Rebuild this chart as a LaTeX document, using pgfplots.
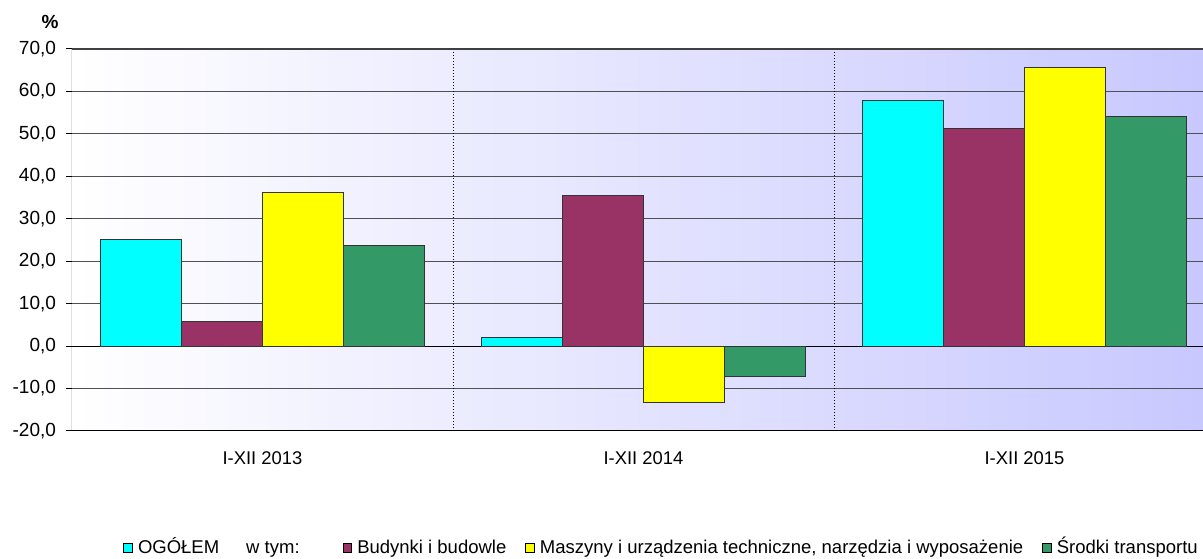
\documentclass[border=0pt]{standalone}
\usepackage{fontspec}
\setmainfont{Liberation Sans}
\usepackage{pgfplots}
\pgfplotsset{compat=1.18}
\usetikzlibrary{calc}
\definecolor{cogol}{RGB}{0,255,255}
\definecolor{cbud}{RGB}{153,51,102}
\definecolor{cmasz}{RGB}{255,255,0}
\definecolor{ctrans}{RGB}{51,153,102}
\definecolor{cbgright}{RGB}{200,200,255}
\definecolor{cgrid}{RGB}{80,80,80}
\pgfplotsset{
  sq bar/.style={fill=#1, draw=black!80, line width=0.5pt,
    legend image code/.code={\draw[fill=#1, draw=black, line width=0.4pt] (0pt,-2.2pt) rectangle (4.4pt,2.2pt);}},
}

\begin{document}
\begin{tikzpicture}
  \begin{axis}[
    width=565.5pt,
    height=191pt,
    scale only axis,
    xmin=-0.5, xmax=2.4685,
    ymin=-20, ymax=70,
    ybar=0pt,
    bar width=0.2126,
    xtick={0,1,2},
    xticklabels={I-XII 2013,I-XII 2014,I-XII 2015},
    ytick={-20,-10,0,10,20,30,40,50,60,70},
    ytick pos=left,
    tick align=outside,
    major tick length=3pt,
    xtick style={draw=none},
    ytick style={draw=black, line width=0.5pt},
    yticklabel style={font=\fontsize{9.5}{11}\selectfont, xshift=-1.5pt},
    xticklabel style={font=\fontsize{9.2}{11}\selectfont, yshift=-4pt},
    /pgf/number format/.cd, fixed, fixed zerofill, precision=1, use comma, assume math mode=true,
    /pgfplots/.cd,
    ymajorgrids=true,
    grid style={draw=cgrid, line width=0.5pt},
    extra x ticks={0.5,1.5},
    extra x tick labels={},
    extra x tick style={grid=major, major grid style={draw=black, line width=0.5pt, densely dotted}, tick style={draw=none}},
    extra y ticks={0},
    extra y tick labels={},
    extra y tick style={grid=major, major grid style={draw=black, line width=0.6pt}},
    axis line style={draw=none},
    axis background/.style={left color=white, right color=cbgright},
    legend style={
      at={(axis description cs:0.0451,-0.306)},
      anchor=west,
      draw=none, fill=none,
      inner sep=0pt,
      font=\fontsize{9.25}{11}\selectfont,
      legend columns=5,
      nodes={inner sep=0.5pt, text height=8pt, text depth=2.2pt},
      /tikz/every odd column/.append style={column sep=2pt},
      /tikz/every even column/.append style={column sep=9pt},
    },
  ]
    \addplot[sq bar=cogol, bar shift=-0.3189]
      coordinates {(0,25.0) (1,2.1) (2,57.8)};
    \addlegendentry{OGÓŁEM}
    \addlegendimage{empty legend}
    \addlegendentry{\kern1.5pt w tym:\kern12pt}
    \addplot[sq bar=cbud, bar shift=-0.1063]
      coordinates {(0,5.9) (1,35.6) (2,51.2)};
    \addlegendentry{Budynki i budowle}
    \addplot[sq bar=cmasz, bar shift=0.1063]
      coordinates {(0,36.3) (1,-13.4) (2,65.6)};
    \addlegendentry{Maszyny i urządzenia techniczne, narzędzia i wyposażenie}
    \addplot[sq bar=ctrans, bar shift=0.3189]
      coordinates {(0,23.6) (1,-7.1) (2,54.0)};
    \addlegendentry{Środki transportu}

    \draw[black, line width=0.5pt] (rel axis cs:0,0) -- (rel axis cs:1,0);
    \draw[black, line width=0.5pt] (rel axis cs:0,0) -- (rel axis cs:0,1);
    \draw[black!75, line width=0.9pt] (rel axis cs:0,1) -- (rel axis cs:1,1);
  \end{axis}
  \node[font=\fontsize{9.5}{11}\selectfont\bfseries] at ($(current axis.north west)+(-11pt,13.5pt)$) {\%};
  \pgfresetboundingbox
  \path[use as bounding box] ($(current axis.south west)+(-36pt,-64pt)$) rectangle ($(current axis.north east)+(0pt,24.5pt)$);
\end{tikzpicture}
\end{document}
